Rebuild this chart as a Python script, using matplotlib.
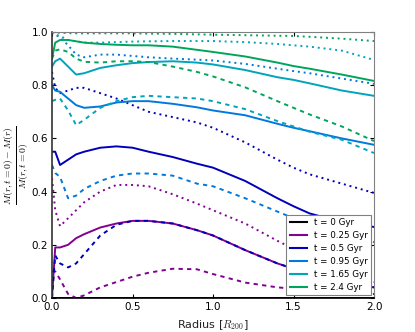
import matplotlib
matplotlib.use('Agg')
import matplotlib.pyplot as plt
from matplotlib.lines import Line2D

plt.rcParams['mathtext.fontset'] = 'cm'
plt.rcParams['font.family'] = ['DejaVu Sans']

radius = [0.0, 0.02, 0.05, 0.1, 0.15, 0.2, 0.3, 0.4, 0.5, 0.6, 0.75, 0.9, 1.0,
          1.2, 1.4, 1.5, 1.6, 1.8, 2.0]

time_labels = ['t = 0 Gyr', 't = 0.25 Gyr', 't = 0.5 Gyr', 't = 0.95 Gyr',
               't = 1.65 Gyr', 't = 2.4 Gyr']

# t = 0 Gyr
black_solid = [0.0] * 19

# t = 0.25 Gyr
purple_solid = [0.0, 0.19, 0.19, 0.2, 0.225, 0.24, 0.265, 0.28, 0.29, 0.29, 0.28,
                0.255, 0.235, 0.18, 0.13, 0.11, 0.09, 0.06, 0.04]
purple_dashed = [0.1, 0.1, 0.07, 0.015, 0.0, 0.01, 0.04, 0.06, 0.08, 0.095, 0.11,
                 0.108, 0.09, 0.058, 0.04, 0.035, 0.03, 0.02, 0.015]
purple_dotted = [0.45, 0.33, 0.27, 0.3, 0.33, 0.36, 0.40, 0.425, 0.425, 0.42, 0.39,
                 0.355, 0.33, 0.28, 0.215, 0.185, 0.155, 0.10, 0.06]

# t = 0.5 Gyr
blue_solid = [0.55, 0.55, 0.50, 0.52, 0.54, 0.55, 0.565, 0.57, 0.565, 0.55, 0.53,
              0.505, 0.49, 0.44, 0.375, 0.345, 0.318, 0.285, 0.267]
blue_dashed = [0.0, 0.16, 0.13, 0.115, 0.13, 0.165, 0.235, 0.275, 0.29, 0.29, 0.28,
               0.255, 0.235, 0.18, 0.13, 0.11, 0.09, 0.06, 0.04]
blue_dotted = [0.85, 0.79, 0.77, 0.78, 0.79, 0.79, 0.77, 0.75, 0.725, 0.70, 0.68,
               0.66, 0.64, 0.585, 0.52, 0.49, 0.465, 0.43, 0.395]

# t = 0.95 Gyr
azure_solid = [0.8, 0.78, 0.775, 0.75, 0.725, 0.715, 0.72, 0.735, 0.74, 0.74, 0.73,
               0.717, 0.705, 0.687, 0.655, 0.64, 0.627, 0.60, 0.576]
azure_dashed = [0.5, 0.47, 0.455, 0.375, 0.385, 0.41, 0.44, 0.46, 0.468, 0.468, 0.46,
                0.43, 0.42, 0.375, 0.325, 0.30, 0.28, 0.245, 0.21]
azure_dotted = [1.0, 0.99, 0.98, 0.95, 0.915, 0.905, 0.915, 0.915, 0.91, 0.905, 0.90,
                0.896, 0.893, 0.88, 0.862, 0.853, 0.845, 0.825, 0.805]

# t = 1.65 Gyr
cyan_solid = [0.87, 0.89, 0.9, 0.87, 0.84, 0.845, 0.865, 0.875, 0.883, 0.887, 0.89,
              0.885, 0.878, 0.857, 0.83, 0.82, 0.807, 0.78, 0.76]
cyan_dashed = [0.74, 0.745, 0.75, 0.705, 0.65, 0.67, 0.715, 0.74, 0.755, 0.76, 0.755,
               0.75, 0.74, 0.71, 0.665, 0.645, 0.625, 0.595, 0.545]
cyan_dotted = [1.0, 0.99, 0.985, 0.97, 0.965, 0.96, 0.96, 0.962, 0.964, 0.965, 0.966,
               0.966, 0.966, 0.962, 0.955, 0.95, 0.945, 0.93, 0.895]

# t = 2.4 Gyr
green_solid = [0.9, 0.96, 0.97, 0.97, 0.965, 0.96, 0.955, 0.952, 0.95, 0.95, 0.945,
               0.933, 0.925, 0.908, 0.885, 0.872, 0.862, 0.84, 0.816]
green_dashed = [0.9, 0.93, 0.935, 0.925, 0.9, 0.888, 0.885, 0.89, 0.89, 0.887, 0.87,
                0.85, 0.833, 0.792, 0.74, 0.715, 0.69, 0.645, 0.59]
green_dotted = [1.0, 0.998, 0.997, 0.996, 0.995, 0.995, 0.995, 0.995, 0.995, 0.994,
                0.993, 0.991, 0.99, 0.988, 0.986, 0.985, 0.982, 0.975, 0.966]

groups = [
    (black_solid, None, None),
    (purple_solid, purple_dashed, purple_dotted),
    (blue_solid, blue_dashed, blue_dotted),
    (azure_solid, azure_dashed, azure_dotted),
    (cyan_solid, cyan_dashed, cyan_dotted),
    (green_solid, green_dashed, green_dotted),
]

cmap = plt.get_cmap('nipy_spectral')
colors = [cmap(i / 12.0) for i in range(6)]

fig = plt.figure(figsize=(4.15, 3.32), dpi=100)
ax = fig.add_axes([52 / 415, 34 / 332, 322 / 415, 266 / 332])

lw = 1.4
for (sol, das, dot), c in zip(groups, colors):
    ax.plot(radius, sol, color=c, lw=lw, ls='-')
    if das is not None:
        ax.plot(radius, das, color=c, lw=lw, ls=(0, (2.2, 2.2)))
    if dot is not None:
        ax.plot(radius, dot, color=c, lw=lw, ls=(0, (1.0, 2.0)))

ax.set_xlim(0, 2.0)
ax.set_ylim(0, 1.0)
ax.set_xticks([0.0, 0.5, 1.0, 1.5, 2.0])
ax.set_yticks([0.0, 0.2, 0.4, 0.6, 0.8, 1.0])
ax.tick_params(direction='in', labelsize=7.5, top=True, right=True, length=3,
               pad=3)
for side in ['top', 'right']:
    ax.spines[side].set_color('#808080')
for side in ['left', 'bottom']:
    ax.spines[side].set_color('#333333' if side == 'left' else 'black')
    ax.spines[side].set_linewidth(1.2)

ax.set_xlabel(r'Radius [$R_{200}$]', fontsize=8, color='#222222')
ax.set_ylabel(r'$\frac{M(r,t=0)-M(r)}{M(r,t=0)}$', fontsize=10)
ax.yaxis.set_label_coords(-0.068, 0.5)

handles = [Line2D([], [], color=c, lw=1.5) for c in colors]
leg = ax.legend(handles, time_labels, loc='lower right', fontsize=6.3,
                fancybox=False, framealpha=1, edgecolor='#808080',
                handlelength=2.0, labelspacing=0.45, borderpad=0.4,
                borderaxespad=0.3)
leg.get_frame().set_linewidth(0.8)

fig.savefig('out.png', dpi=100)
